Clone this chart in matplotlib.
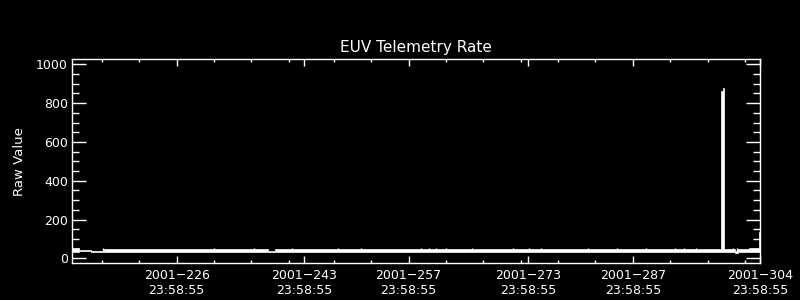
import numpy as np
import matplotlib.pyplot as plt
from matplotlib.ticker import FixedLocator, MultipleLocator

# Day-of-year 2001 (time of day 23:58:55), raw telemetry values
band_days = [212.0, 213.0, 214.6, 216.3, 238.2, 239.1, 299.2, 300.6, 301.0, 302.5, 303.85, 304.0]
band_low = [33, 40, 35, 33, 33, 33, 33, 30, 33, 33, 33, 33]
band_high = [51, 45, 40, 46, 40, 46, 46, 40, 46, 52, 137, 137]

blip_days = [216.1, 231.0, 236.3, 241.4, 247.6, 250.6, 258.7, 259.7, 260.7, 262.0,
             265.5, 271.0, 273.1, 274.7, 281.0, 284.9, 288.7, 292.7, 293.8, 295.4,
             300.4, 300.9]
blip_vals = [55, 52, 52, 52, 52, 53, 52, 52, 52, 53, 52, 52, 52, 52, 52, 52, 52, 52,
             53, 52, 52, 52]

spike_days = [298.76, 299.06, 299.17]
spike_vals = [861, 878, 878]

tick_days = [226, 243, 257, 273, 287, 304]
tick_labels = [f"2001\u2212{d}\n23:58:55" for d in tick_days]
minor_days = [216, 221, 231, 236, 241, 247, 252, 262, 267, 272, 277, 282, 292, 297, 302]

fig = plt.figure(figsize=(8, 3), dpi=100, facecolor='black')
ax = fig.add_axes([0.09, 0.122, 0.86, 0.681], facecolor='black')

ax.fill_between(band_days, band_low, band_high, step='post', color='white',
                edgecolor='white', lw=0.5)
ax.vlines(blip_days, 40, blip_vals, color='white', lw=1)
ax.fill_between(spike_days, 40, spike_vals, step='post', color='white',
                edgecolor='white', lw=0.5)

ax.set_xlim(212, 304)
ax.set_ylim(-26, 1027)

ax.xaxis.set_major_locator(FixedLocator(tick_days))
ax.xaxis.set_minor_locator(FixedLocator(minor_days))
ax.set_xticklabels(tick_labels)
ax.yaxis.set_major_locator(MultipleLocator(200))
ax.yaxis.set_minor_locator(MultipleLocator(50))

for s in ax.spines.values():
    s.set_color('white')
    s.set_linewidth(1)

ax.tick_params(axis='both', which='both', direction='in', colors='white',
               top=True, right=True, labelsize=9, width=1)
ax.tick_params(axis='y', which='major', length=10, pad=3)
ax.tick_params(axis='y', which='minor', length=5)
ax.tick_params(axis='x', which='major', length=5, pad=4)
ax.tick_params(axis='x', which='minor', length=2.2)
for lab in ax.get_xticklabels():
    lab.set_linespacing(1.2)

ax.set_title('EUV Telemetry Rate', color='white', fontsize=11, pad=5)
ax.set_ylabel('Raw Value', color='white', fontsize=9.5, labelpad=7)

fig.savefig('out.png', dpi=100, facecolor='black')
